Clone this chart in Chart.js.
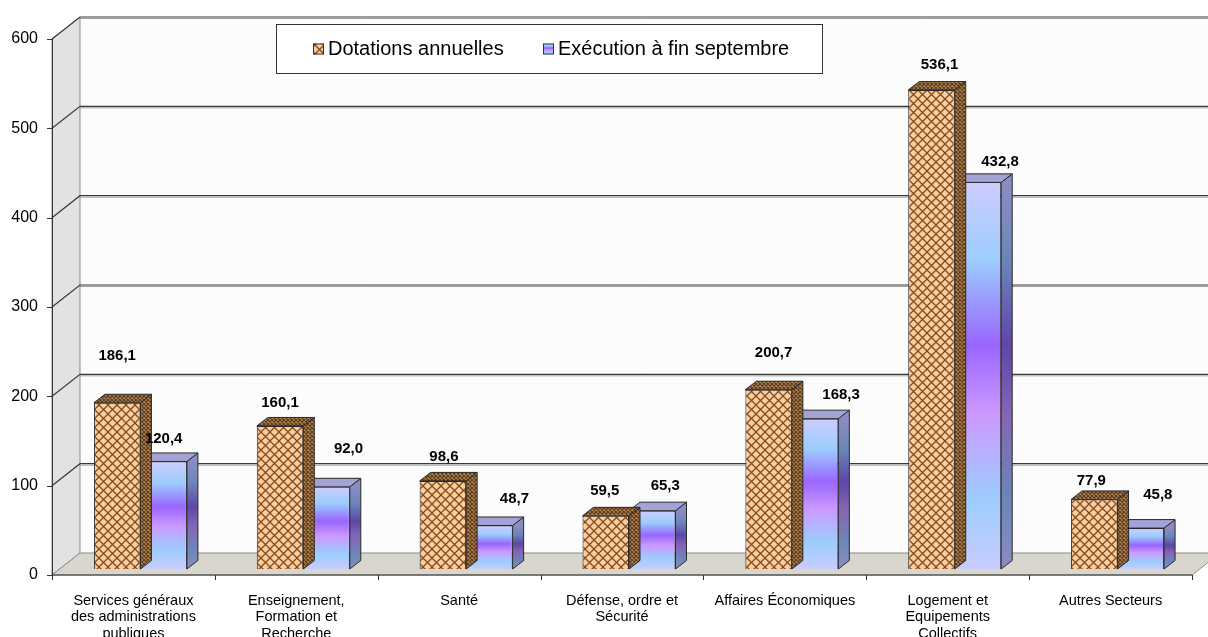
<!DOCTYPE html>
<html>
<head>
<meta charset="utf-8">
<script src="https://cdn.jsdelivr.net/npm/chart.js@4.4.0/dist/chart.umd.min.js"></script>
<style>
  html, body { margin: 0; padding: 0; background: #fff; }
</style>
</head>
<body>
<canvas id="grafico" width="1208" height="637"></canvas>
<script>
// Données
const categories = [
    ['Services généraux', 'des administrations', 'publiques'],
    ['Enseignement,', 'Formation et', 'Recherche'],
    'Santé',
    ['Défense, ordre et', 'Sécurité'],
    'Affaires Économiques',
    ['Logement et', 'Equipements', 'Collectifs'],
    'Autres Secteurs'
];
const dotations = [186.1, 160.1, 98.6, 59.5, 200.7, 536.1, 77.9];
const execution = [120.4, 92.0, 48.7, 65.3, 168.3, 432.8, 45.8];
const seriesNoms = ['Dotations annuelles', 'Exécution à fin septembre'];
const ticksY = [0, 100, 200, 300, 400, 500, 600];

// décalage des étiquettes de valeur (comme placées dans l'original)
const decalEtiq = [
    [[0, -47], [0, -23], [1, -24], [-1, -25], [5, -37], [8, -25], [-3, -19]],
    [[0, -23], [22, -38], [25, -27], [13, -25], [26, -24], [22, -21], [17, -33]]
];

// perspective 3D : plan avant, mur du fond, profondeur des barres
const AVANT = { dx: -7, dy: 6 };
const FOND = { dx: 21, dy: -16 };
const PROF = { dx: 11, dy: -8.5 };

const ctx = document.getElementById('grafico').getContext('2d');

function motif(fond, trait, pas, ep) {
    const c = document.createElement('canvas');
    c.width = c.height = pas;
    const g = c.getContext('2d');
    g.fillStyle = fond;
    g.fillRect(0, 0, pas, pas);
    g.strokeStyle = trait;
    g.lineWidth = ep;
    g.beginPath();
    g.moveTo(-1, -1); g.lineTo(pas + 1, pas + 1);
    g.moveTo(pas + 1, -1); g.lineTo(-1, pas + 1);
    g.stroke();
    return ctx.createPattern(c, 'repeat');
}
const treillis = motif('#ffcc99', '#7a4e26', 9, 1.3);
const treillisSombre = motif('#b48858', '#5a3818', 4, 1.1);

function degradeExec(c, top, bas, sombre) {
    const g = c.createLinearGradient(0, top, 0, bas);
    const cols = sombre
        ? ['#8a8cc4', '#6c86b8', '#5e46a8', '#8466b4', '#6c86b8', '#8a8cc4']
        : ['#cdccff', '#9ccdfd', '#9966ff', '#cc99ff', '#9ccdfd', '#c8ccff'];
    const pos = [0, 0.2, 0.42, 0.6, 0.82, 1];
    cols.forEach((col, i) => g.addColorStop(pos[i], col));
    return g;
}

const decor3D = {
    id: 'decor3D',
    beforeDatasetsDraw(chart) {
        const { ctx: c, chartArea: a, scales: { y } } = chart;
        const y0 = y.getPixelForValue(0), yMax = y.getPixelForValue(600);
        const fL = a.left + FOND.dx, fR = a.right + FOND.dx;
        const aL = a.left + AVANT.dx, aR = a.right + AVANT.dx;
        c.save();
        // mur du fond
        c.fillStyle = '#fcfcfc';
        c.fillRect(fL, yMax + FOND.dy, fR - fL, y0 - yMax);
        // mur latéral
        c.beginPath();
        c.moveTo(aL, yMax + AVANT.dy); c.lineTo(fL, yMax + FOND.dy);
        c.lineTo(fL, y0 + FOND.dy); c.lineTo(aL, y0 + AVANT.dy); c.closePath();
        c.fillStyle = '#e2e2e2'; c.fill();
        c.strokeStyle = '#8a8a8a'; c.lineWidth = 1; c.stroke();
        // sol
        c.beginPath();
        c.moveTo(aL, y0 + AVANT.dy); c.lineTo(fL, y0 + FOND.dy);
        c.lineTo(fR, y0 + FOND.dy); c.lineTo(aR, y0 + AVANT.dy); c.closePath();
        c.fillStyle = '#d9d7cd'; c.fill();
        c.strokeStyle = '#8a8a8a'; c.stroke();
        // quadrillage
        ticksY.slice(1).forEach(v => {
            const py = y.getPixelForValue(v);
            c.strokeStyle = '#3a3a3a'; c.lineWidth = 1.2;
            c.beginPath();
            c.moveTo(aL, py + AVANT.dy); c.lineTo(fL, py + FOND.dy);
            c.lineTo(fR, py + FOND.dy); c.stroke();
            c.strokeStyle = '#a0a0a0'; c.lineWidth = 1;
            c.beginPath(); c.moveTo(fL, py + FOND.dy + 1.5); c.lineTo(fR, py + FOND.dy + 1.5); c.stroke();
        });
        // axes avant
        c.strokeStyle = '#333'; c.lineWidth = 1;
        c.beginPath();
        c.moveTo(aL + 0.5, yMax + AVANT.dy); c.lineTo(aL + 0.5, y0 + AVANT.dy);
        c.lineTo(aR, y0 + AVANT.dy);
        ticksY.forEach(v => {
            const py = Math.round(y.getPixelForValue(v) + AVANT.dy) + 0.5;
            c.moveTo(aL - 5, py); c.lineTo(aL, py);
        });
        const pas = (a.right - a.left) / categories.length;
        for (let i = 0; i <= categories.length; i++) {
            const px = Math.round(aL + i * pas) + 0.5;
            c.moveTo(px, y0 + AVANT.dy); c.lineTo(px, y0 + AVANT.dy + 5);
        }
        c.stroke();
        c.restore();
    },
    afterDatasetDraw(chart, args) {
        const c = chart.ctx;
        const idx = args.index;
        c.save();
        c.lineWidth = 1;
        c.strokeStyle = '#2a2a2a';
        args.meta.data.forEach(b => {
            const { x, y, base, width } = b.getProps(['x', 'y', 'base', 'width'], true);
            const l = x - width / 2, r = x + width / 2;
            // face latérale
            c.beginPath();
            c.moveTo(r, y); c.lineTo(r + PROF.dx, y + PROF.dy);
            c.lineTo(r + PROF.dx, base + PROF.dy); c.lineTo(r, base); c.closePath();
            c.fillStyle = idx === 0 ? treillisSombre : degradeExec(c, y, base, true);
            c.fill(); c.stroke();
            // dessus
            c.beginPath();
            c.moveTo(l, y); c.lineTo(l + PROF.dx, y + PROF.dy);
            c.lineTo(r + PROF.dx, y + PROF.dy); c.lineTo(r, y); c.closePath();
            c.fillStyle = idx === 0 ? treillisSombre : '#a3a3d6';
            c.fill(); c.stroke();
        });
        c.restore();
    },
    afterDraw(chart) {
        const c = chart.ctx;
        c.save();
        // étiquettes de valeur
        c.font = 'bold 15px "Liberation Sans", Arial, sans-serif';
        c.fillStyle = '#000';
        c.textAlign = 'center';
        c.textBaseline = 'middle';
        [dotations, execution].forEach((serie, s) => {
            const meta = chart.getDatasetMeta(s);
            meta.data.forEach((b, i) => {
                const d = decalEtiq[s][i];
                c.fillText(serie[i].toFixed(1).replace('.', ','), b.x + d[0], b.y + d[1]);
            });
        });
        // légende encadrée
        c.fillStyle = '#fff';
        c.fillRect(276, 24, 546, 49);
        c.strokeStyle = '#333';
        c.lineWidth = 1;
        c.strokeRect(276.5, 24.5, 546, 49);
        c.font = '20px "Liberation Sans", Arial, sans-serif';
        c.textAlign = 'left';
        c.textBaseline = 'middle';
        const pos = [313, 543];
        seriesNoms.forEach((nom, s) => {
            const mx = pos[s], my = 43.5;
            c.fillStyle = s === 0 ? treillis : degradeExec(c, my, my + 11, false);
            c.fillRect(mx, my, 11, 11);
            c.strokeStyle = '#333';
            c.strokeRect(mx + 0.5, my + 0.5, 10, 10);
            c.fillStyle = '#000';
            c.fillText(nom, mx + 15, 49.5);
        });
        c.restore();
    }
};

const grafico = new Chart(ctx, {
    type: 'bar',
    data: {
        labels: categories,
        datasets: [
            {
                label: seriesNoms[0],
                data: dotations,
                backgroundColor: treillis,
                borderColor: '#2a2a2a',
                borderWidth: 1
            },
            {
                label: seriesNoms[1],
                data: execution,
                backgroundColor: (cx) => {
                    const ch = cx.chart;
                    if (!ch.chartArea || cx.type !== 'data') return '#aab4ff';
                    const y = ch.scales.y;
                    return degradeExec(ch.ctx, y.getPixelForValue(cx.raw), y.getPixelForValue(0), false);
                },
                borderColor: '#2a2a2a',
                borderWidth: 1
            }
        ]
    },
    options: {
        responsive: false,
        animation: false,
        devicePixelRatio: 1,
        layout: { padding: { top: 33, right: 9, left: 0, bottom: 0 } },
        datasets: { bar: { categoryPercentage: 0.571, barPercentage: 1 } },
        plugins: { legend: { display: false }, tooltip: { enabled: false } },
        scales: {
            x: {
                grid: { display: false, drawTicks: false },
                border: { display: false },
                ticks: {
                    autoSkip: false,
                    maxRotation: 0,
                    labelOffset: -7,
                    padding: 24,
                    color: '#000',
                    font: { family: '"Liberation Sans", Arial, sans-serif', size: 14.5, lineHeight: 1.12 }
                },
                afterFit: (s) => { s.height = 68; }
            },
            y: {
                min: 0,
                max: 600,
                grid: { display: false, drawTicks: false },
                border: { display: false },
                ticks: {
                    stepSize: 100,
                    padding: 21,
                    labelOffset: 6,
                    color: '#000',
                    font: { family: '"Liberation Sans", Arial, sans-serif', size: 16 }
                },
                afterFit: (s) => { s.width = 59; }
            }
        }
    },
    plugins: [decor3D]
});
</script>
</body>
</html>
